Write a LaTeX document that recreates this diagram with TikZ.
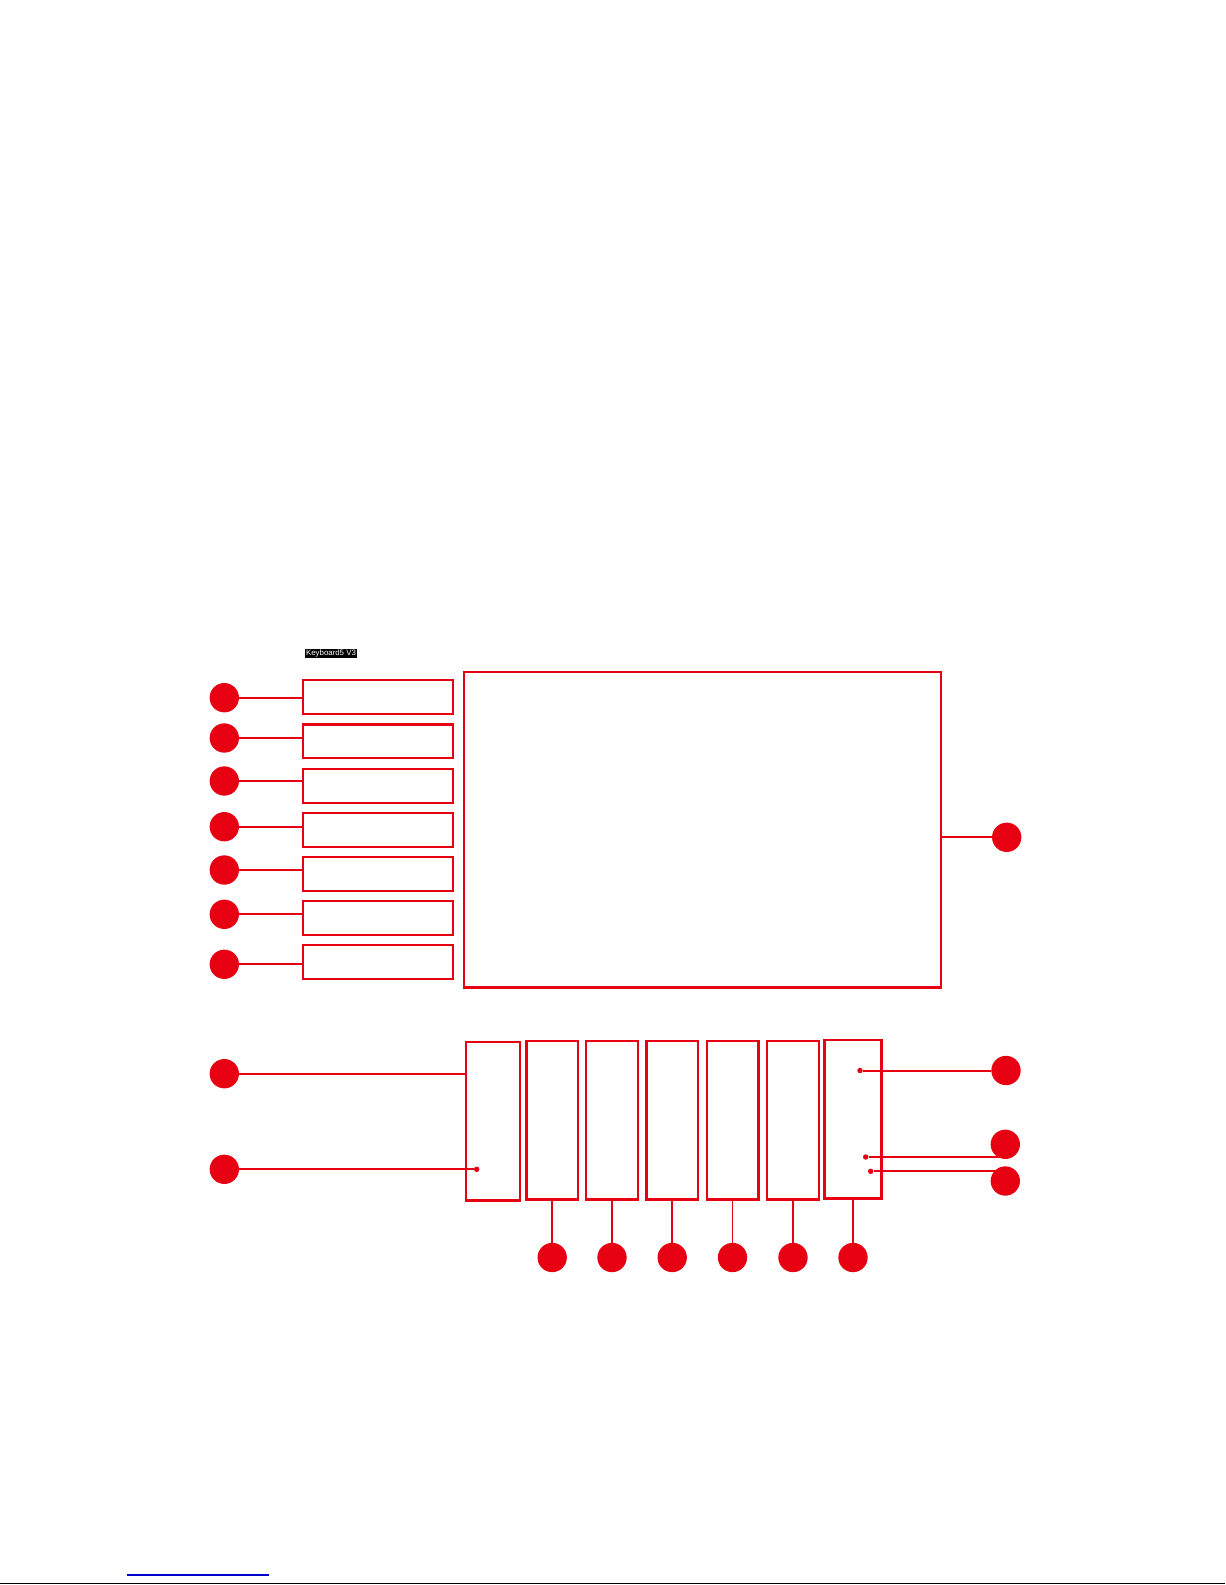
\documentclass[tikz,border=0pt]{standalone}
\usepackage{fontspec}
\setmainfont{Liberation Sans}
\usetikzlibrary{backgrounds}
\definecolor{kred}{RGB}{230,0,18}
\definecolor{kblue}{RGB}{0,0,204}
\begin{document}
\begin{tikzpicture}[x=0.75pt,y=-0.75pt,
  bullet/.style={circle,fill=kred,inner sep=0pt,minimum size=22pt},
  pin/.style={circle,fill=kred,inner sep=0pt,minimum size=4.1pt},
  lbox/.style={draw=kred,line width=1.6pt,minimum width=112pt,minimum height=25.3pt,inner sep=0pt},
  kbox/.style={draw=kred,line width=1.8pt,minimum width=38.7pt,minimum height=119pt,inner sep=0pt},
  conn/.style={draw=kred,line width=1.2pt},
  thick conn/.style={draw=kred,line width=1.5pt}]
\useasboundingbox (0,0) rectangle (1225,1585);

% title label
\node[fill=black,text=white,font=\fontsize{5.9}{5.9}\selectfont,inner xsep=0.6pt,inner ysep=0.5pt] (title) at (331,653.7) {Keyboard5 V3};

% left column boxes
\node[lbox] (l1) at (378,696.7) {};
\node[lbox] (l2) at (378,741.3) {};
\node[lbox] (l3) at (378,785.8) {};
\node[lbox] (l4) at (378,830.2) {};
\node[lbox] (l5) at (378,874) {};
\node[lbox] (l6) at (378,918) {};
\node[lbox] (l7) at (378,961.8) {};

% left column bullets
\node[bullet] (a1) at (224.3,697.7) {};
\node[bullet] (a2) at (224.3,738) {};
\node[bullet] (a3) at (224.3,781) {};
\node[bullet] (a4) at (224.3,826.7) {};
\node[bullet] (a5) at (224.3,870) {};
\node[bullet] (a6) at (224.3,914.3) {};
\node[bullet] (a7) at (224.3,964.3) {};

\draw[conn] (a1) -- (a1 -| l1.west);
\draw[conn] (a2) -- (a2 -| l2.west);
\draw[thick conn] (a3) -- (a3 -| l3.west);
\draw[conn] (a4) -- (a4 -| l4.west);
\draw[thick conn] (a5) -- (a5 -| l5.west);
\draw[thick conn] (a6) -- (a6 -| l6.west);
\draw[thick conn] (a7) -- (a7 -| l7.west);

% big screen
\node[draw=kred,line width=2.2pt,minimum width=357.75pt,minimum height=236.6pt,inner sep=0pt] (big) at (702.5,829.7) {};
\node[bullet] (r0) at (1006.7,837.3) {};
\draw[thick conn] (big.east |- r0) -- (r0);

% bottom keys
\node[kbox,minimum width=40.5pt] (b1) at (493,1121.3) {};
\node[kbox] (b2) at (552.2,1120.3) {};
\node[kbox] (b3) at (612,1120.3) {};
\node[kbox] (b4) at (672.2,1120.3) {};
\node[kbox] (b5) at (732.5,1120.3) {};
\node[kbox] (b6) at (793,1120.3) {};
\node[kbox,minimum width=43pt,minimum height=118.7pt] (b7) at (853,1119.2) {};

% bottom bullets
\node[bullet] (d2) at (552.2,1257.5) {};
\node[bullet] (d3) at (612,1257.5) {};
\node[bullet] (d4) at (672.2,1257.5) {};
\node[bullet] (d5) at (732.5,1257.5) {};
\node[bullet] (d6) at (793,1257.5) {};
\node[bullet] (d7) at (853,1257.5) {};
\draw[conn] (b2.south) -- (d2);
\draw[conn] (b3.south) -- (d3);
\draw[conn] (b4.south) -- (d4);
\draw[conn] (b5.south) -- (d5);
\draw[conn] (b6.south) -- (d6);
\draw[thick conn] (b7.south) -- (d7);

% left bottom callouts
\node[bullet] (e1) at (224.3,1073.7) {};
\node[bullet] (e2) at (224.3,1169.3) {};
\node[pin] (q1) at (476.7,1169.3) {};
\draw[conn] (e1) -- (e1 -| b1.west);
\draw[thick conn] (e2) -- (q1);

% right callouts
\node[pin] (p1) at (860,1070.5) {};
\node[pin] (p2) at (865.7,1157) {};
\node[pin] (p3) at (870.7,1171.3) {};
\node[bullet] (r1) at (1006,1070.5) {};
\node[bullet] (r2) at (1005.3,1144.3) {};
\node[bullet] (r3) at (1005.3,1181) {};
\begin{pgfonlayer}{background}
\draw[thick conn] (p1) -- (r1);
\draw[conn] (p2) -- (p2 -| r2.center);
\draw[thick conn] (p3) -- (p3 -| r3.center);
\end{pgfonlayer}

% footer lines
\coordinate (bl1) at (126.7,1575);
\coordinate (bl2) at (268.7,1575);
\coordinate (fl1) at (0,1583.7);
\coordinate (fl2) at (1225,1583.7);
\draw[kblue,line width=0.9pt] (bl1) -- (bl2);
\draw[black,line width=1pt] (fl1) -- (fl2);
\end{tikzpicture}
\end{document}
